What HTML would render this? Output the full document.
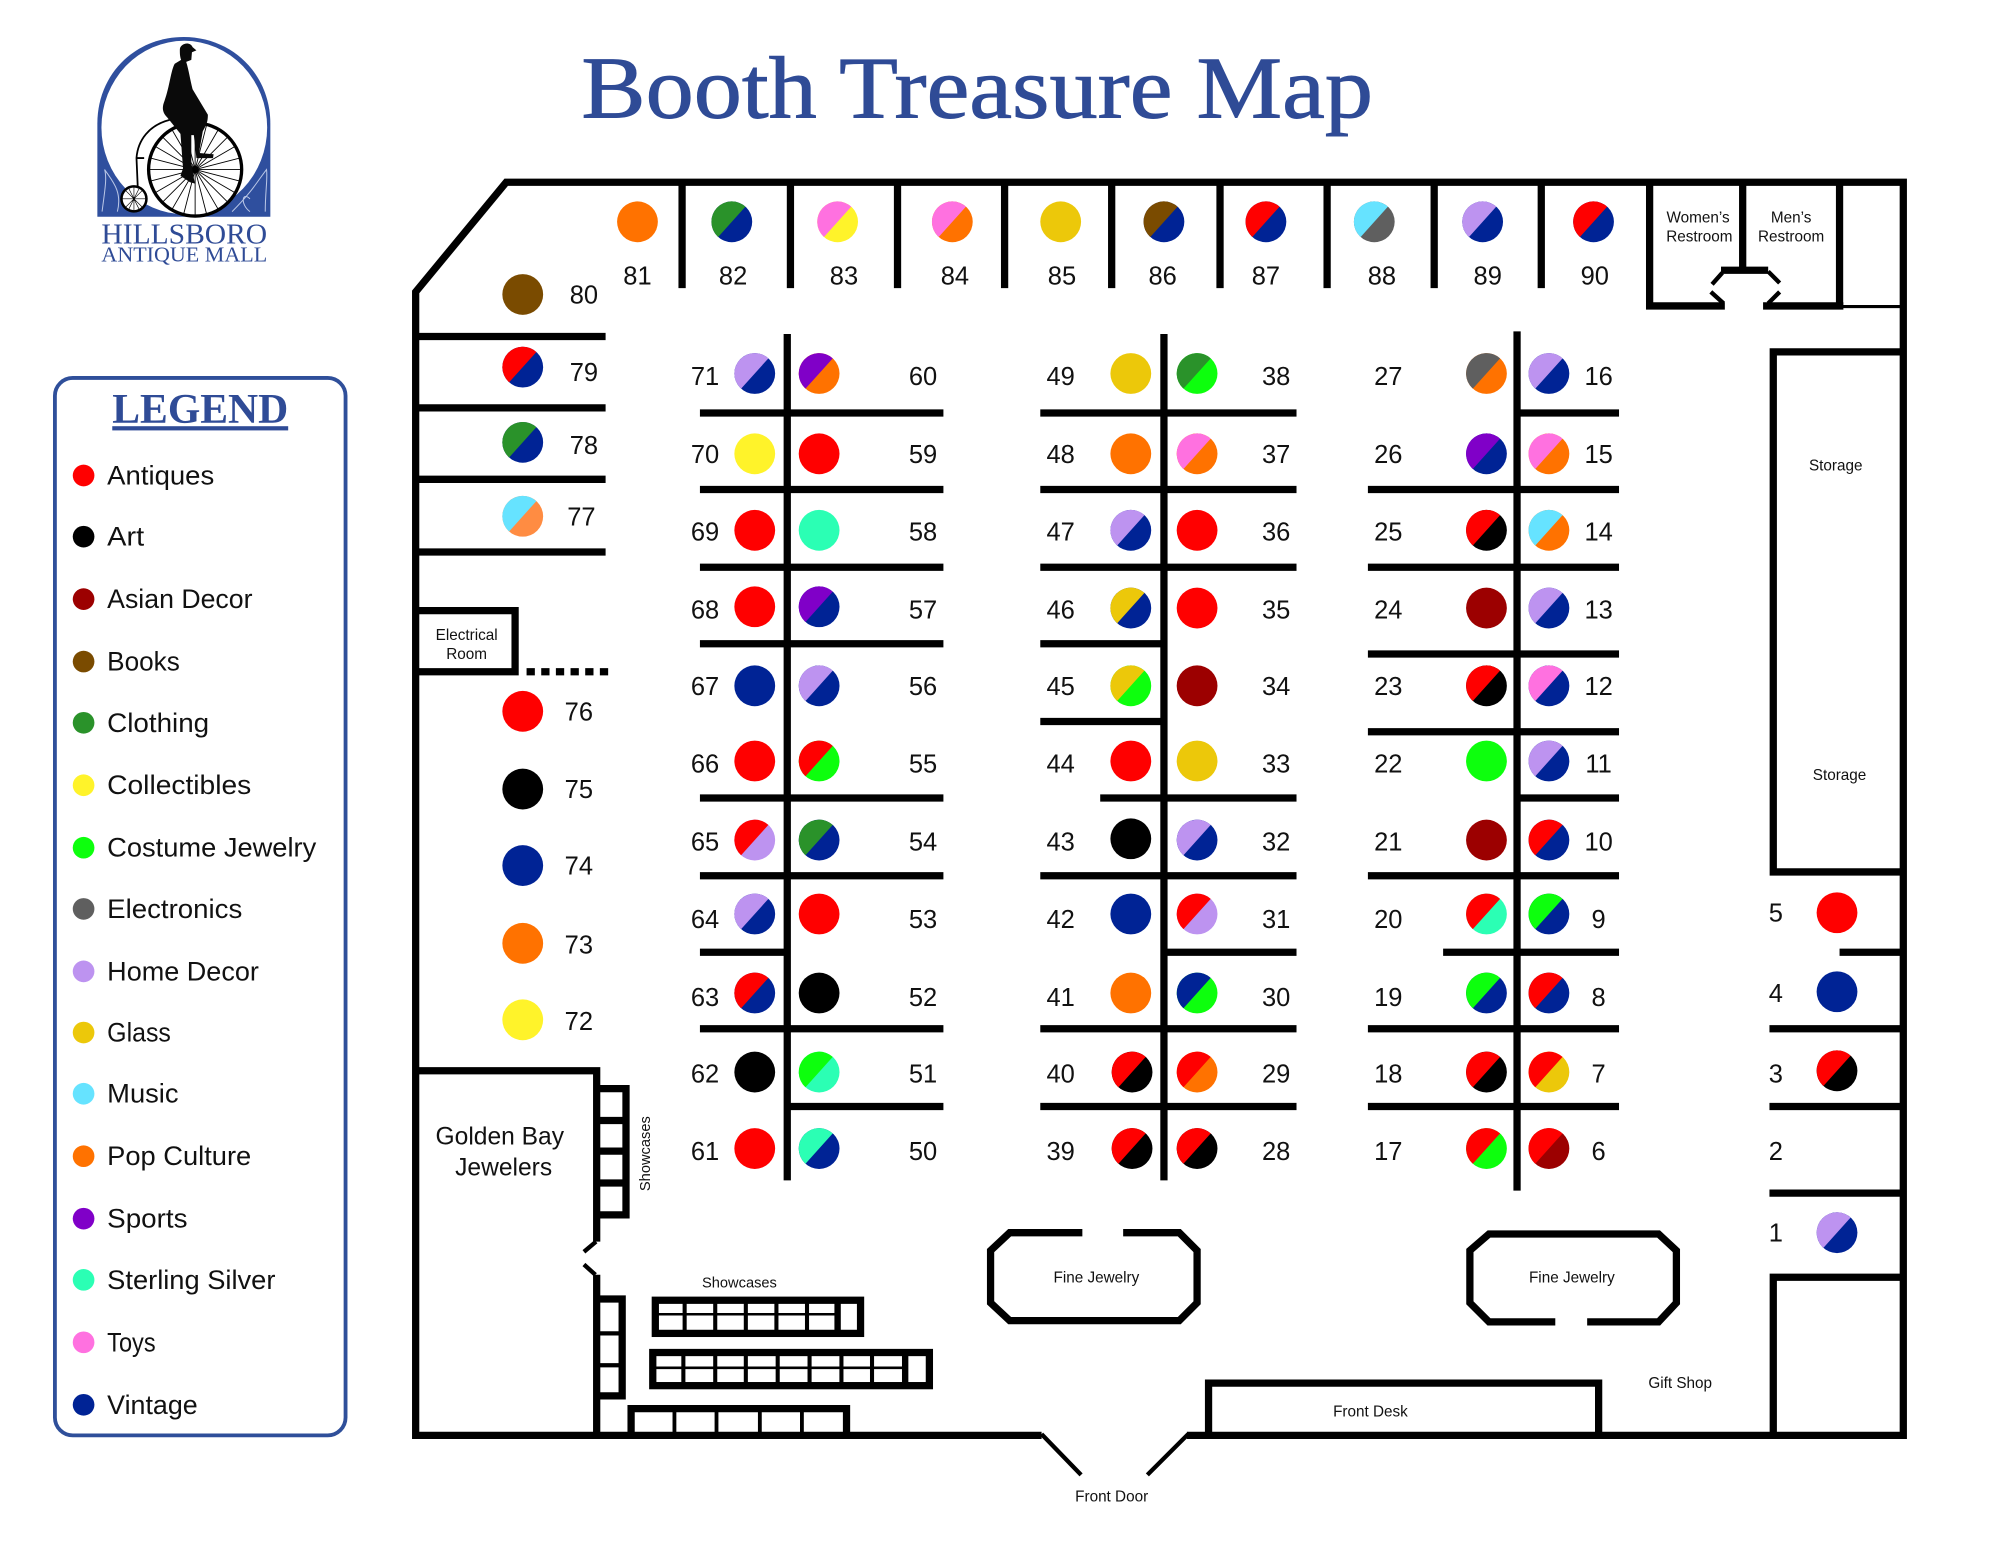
<!DOCTYPE html>
<html><head><meta charset="utf-8"><title>Booth Treasure Map</title>
<style>
html,body{margin:0;padding:0;background:#fff}
svg{display:block}
text{font-family:"Liberation Sans",sans-serif;fill:#111}
.n{font-size:20px;text-anchor:middle;dominant-baseline:central;transform:translateY(.8px)}
.l{font-size:21px;dominant-baseline:central}
.s{font-size:12px;text-anchor:middle}
.w{stroke:#000;stroke-width:5.7;fill:none;stroke-linecap:butt;stroke-linejoin:miter}
.t{stroke:#000;stroke-width:2.4;fill:none}
.d{stroke:#000;stroke-width:3.4;fill:none}
.r{fill:#ff0000}.k{fill:#000}.as{fill:#9c0000}.b{fill:#7a4b00}.c{fill:#2a922a}.y{fill:#fff32a}.j{fill:#0dff0d}.e{fill:#5f5f5f}.h{fill:#bd93f0}.g{fill:#ecc80a}.m{fill:#66e3ff}.p{fill:#ff7200}.q{fill:#ff8c42}.u{fill:#8000c8}.ss{fill:#2bffb4}.o{fill:#ff71e0}.v{fill:#002395}
</style></head><body>
<svg xmlns="http://www.w3.org/2000/svg" width="1999" height="1545" viewBox="0 0 1568 1212">
<defs><path id="H" d="M-10.7,11.9A16,16 0 0 1 10.7,-11.9Z"/></defs>
<rect width="1568" height="1212" fill="#fff"/>

<!-- Title -->
<text x="456" y="92" textLength="621" lengthAdjust="spacingAndGlyphs" stroke="#2f4b96" stroke-width=".7" style="font-family:'Liberation Serif',serif;font-size:69px;fill:#2f4b96">Booth Treasure Map</text>

<!-- Logo -->
<path d="M76.3,170V97C76.3,58 106,29 144,29C182,29 212,58 212,97V170Z" fill="#2f4f9e"/>
<ellipse cx="144.500" cy="100" rx="65" ry="68" fill="#fff"/>
<path d="M80,166C82,150 84,140 82,133C88,142 96,150 92,166M208,166C208,150 210,140 209,133C202,142 198,150 182,166M196,156C190,150 188,160 196,166" stroke="#b9c6e6" stroke-width=".8" fill="none"/>
<g transform="translate(153,133)">
<circle r="36.5" fill="#fff" stroke="#000" stroke-width="2.6"/>
<path d="M-36,0H36M-35,-9L35,9M-31,-18L31,18M-25,-25L25,25M-18,-31L18,31M-9,-35L9,35M0,-36V36M9,-35L-9,35M18,-31L-18,31M25,-25L-25,25M31,-18L-31,18M35,-9L-35,9" stroke="#000" stroke-width=".7"/>
</g>
<g transform="translate(105,156)">
<circle r="9.8" fill="#fff" stroke="#000" stroke-width="2"/>
<path d="M-9,0H9M-7,-7L7,7M0,-9V9M7,-7L-7,7M-4,-8L4,8M4,-8L-4,8" stroke="#000" stroke-width=".5"/>
</g>
<path d="M133,94C117,98 108,110 107,124L108,147M107,124H113" stroke="#000" stroke-width="1.4" fill="none"/>
<path d="M141,39C141,34 149,32 151,37L154,39.500L150.500,41L150,47L146,48.500C148,55 149,62 151,70L163,90C163,97 161,99 159,103L156,120L167.500,121L167,124L154,124L152,106L150,106L150,128L152,140L153,144L149,143L141.500,138L143.500,132L141.500,105L131,92C127,88 127,84 129,79C133,68 134,55 137,50L142,47C141,44 141,42 141,39Z" fill="#0a0a0a"/>
<text x="144.500" y="191" text-anchor="middle" textLength="130" lengthAdjust="spacingAndGlyphs" style="font-family:'Liberation Serif',serif;font-size:22px;fill:#2f4b96">HILLSBORO</text>
<text x="144.500" y="205" text-anchor="middle" textLength="130" lengthAdjust="spacingAndGlyphs" style="font-family:'Liberation Serif',serif;font-size:16.5px;fill:#2f4b96">ANTIQUE MALL</text>

<!-- Legend -->
<rect x="43" y="296.500" width="228" height="829.500" rx="14" fill="#fff" stroke="#2f4f9a" stroke-width="3"/>
<text x="157" y="332" text-anchor="middle" textLength="138" lengthAdjust="spacingAndGlyphs" text-decoration="underline" style="font-family:'Liberation Serif',serif;font-weight:bold;font-size:33px;fill:#2f4b96">LEGEND</text>
<circle class="r" cx="65.500" cy="373" r="8.500"/><text class="l" x="84" y="373" textLength="84" lengthAdjust="spacingAndGlyphs">Antiques</text>
<circle class="k" cx="65.500" cy="421" r="8.500"/><text class="l" x="84" y="421" textLength="29" lengthAdjust="spacingAndGlyphs">Art</text>
<circle class="as" cx="65.500" cy="470" r="8.500"/><text class="l" x="84" y="470" textLength="114" lengthAdjust="spacingAndGlyphs">Asian Decor</text>
<circle class="b" cx="65.500" cy="519" r="8.500"/><text class="l" x="84" y="519" textLength="57" lengthAdjust="spacingAndGlyphs">Books</text>
<circle class="c" cx="65.500" cy="567" r="8.500"/><text class="l" x="84" y="567" textLength="80" lengthAdjust="spacingAndGlyphs">Clothing</text>
<circle class="y" cx="65.500" cy="616" r="8.500"/><text class="l" x="84" y="616" textLength="113" lengthAdjust="spacingAndGlyphs">Collectibles</text>
<circle class="j" cx="65.500" cy="665" r="8.500"/><text class="l" x="84" y="665" textLength="164" lengthAdjust="spacingAndGlyphs">Costume Jewelry</text>
<circle class="e" cx="65.500" cy="713" r="8.500"/><text class="l" x="84" y="713" textLength="106" lengthAdjust="spacingAndGlyphs">Electronics</text>
<circle class="h" cx="65.500" cy="762" r="8.500"/><text class="l" x="84" y="762" textLength="119" lengthAdjust="spacingAndGlyphs">Home Decor</text>
<circle class="g" cx="65.500" cy="810" r="8.500"/><text class="l" x="84" y="810" textLength="50" lengthAdjust="spacingAndGlyphs">Glass</text>
<circle class="m" cx="65.500" cy="858" r="8.500"/><text class="l" x="84" y="858" textLength="56" lengthAdjust="spacingAndGlyphs">Music</text>
<circle class="p" cx="65.500" cy="907" r="8.500"/><text class="l" x="84" y="907" textLength="113" lengthAdjust="spacingAndGlyphs">Pop Culture</text>
<circle class="u" cx="65.500" cy="956" r="8.500"/><text class="l" x="84" y="956" textLength="63" lengthAdjust="spacingAndGlyphs">Sports</text>
<circle class="ss" cx="65.500" cy="1004" r="8.500"/><text class="l" x="84" y="1004" textLength="132" lengthAdjust="spacingAndGlyphs">Sterling Silver</text>
<circle class="o" cx="65.500" cy="1053" r="8.500"/><text class="l" x="84" y="1053" textLength="38" lengthAdjust="spacingAndGlyphs">Toys</text>
<circle class="v" cx="65.500" cy="1102" r="8.500"/><text class="l" x="84" y="1102" textLength="71" lengthAdjust="spacingAndGlyphs">Vintage</text>

<!-- Outer walls -->
<path class="w" d="M817,1126H326V229L397,143H1493V1126H931"/>
<path class="d" d="M817,1125L848,1157M932,1125L900,1157"/>

<!-- Top booth dividers -->
<path class="w" d="M535,143V226M620,143V226M704,143V226M788,143V226M872,143V226M957,143V226M1041,143V226M1125,143V226M1209,143V226"/>
<!-- Restrooms -->
<path class="w" d="M1294,143V240H1353M1383,240H1446M1443,143V240M1367,143V212M1350,212H1387"/>
<path class="d" d="M1351,214L1343,223M1342,229L1352,238M1387,213L1396,222M1396,229L1387,238"/>
<path class="t" d="M1443,240.500H1493"/>
<!-- Storage and right side -->
<path class="w" d="M1493,276H1391V684H1493M1443,747H1493M1388,807H1493M1388,868H1493M1388,936H1493M1391,1126V1002H1493"/>
<!-- Left booths -->
<path class="w" d="M326,264H475M326,320H475M326,376H475M326,433H475"/>
<path class="w" d="M326,479H404V527H326"/>
<path d="M413,527H478" stroke="#000" stroke-width="5.7" stroke-dasharray="6.500 5" fill="none"/>
<!-- Golden Bay -->
<path class="w" d="M326,840H468V974M468,1000V1126"/>
<path class="d" d="M467.500,974L458,982M458,992L467,1000"/>
<path class="w" d="M468,854H491V953H468M468,879H491M468,903H491M468,928H491"/>
<path class="w" d="M468,1019H488V1095H468"/>
<path class="d" d="M468,1046H488M468,1071H488"/>
<!-- Showcases -->
<rect class="w" x="514" y="1020" width="161" height="26"/>
<path d="M537,1020V1046M561,1020V1046M585,1020V1046M609,1020V1046M633,1020V1046" stroke="#000" stroke-width="3.200"/>
<path d="M657,1020V1046" stroke="#000" stroke-width="5"/>
<path d="M514,1031H657" stroke="#000" stroke-width="2"/>
<rect class="w" x="512" y="1061" width="217" height="26"/>
<path d="M536,1061V1087M561,1061V1087M585,1061V1087M610,1061V1087M635,1061V1087M660,1061V1087M684,1061V1087" stroke="#000" stroke-width="3.200"/>
<path d="M710,1061V1087" stroke="#000" stroke-width="5"/>
<path d="M512,1073H710" stroke="#000" stroke-width="2"/>
<path class="w" d="M495,1126V1105H664V1126"/>
<path d="M529,1105V1126M562,1105V1126M596,1105V1126M629,1105V1126" stroke="#000" stroke-width="3"/>
<!-- Fine Jewelry -->
<path class="w" d="M849,967H792L777,981V1022L792,1036H925L939,1022V981L925,967H881"/>
<path class="w" d="M1220,1037H1168L1153,1022V981L1168,968H1301L1315,981V1022L1301,1037H1245"/>
<!-- Front desk -->
<path class="w" d="M948,1126V1085H1254V1126"/>

<!-- Aisle 1 -->
<path class="w" d="M617.500,262V926M549,324H740M549,384H740M549,445H740M549,505H740M549,626H740M549,687H740M549,747H617M549,807H740M617,868H740"/>
<!-- Aisle 2 -->
<path class="w" d="M913,262V926M816,324H1017M816,384H1017M816,445H1017M816,505H913M816,566H913M863,626H1017M816,687H1017M913,747H1017M816,807H1017M816,868H1017"/>
<!-- Aisle 3 -->
<path class="w" d="M1190,260V934M1190,324H1270M1073,384H1270M1073,445H1270M1073,513H1270M1073,574H1270M1190,626H1270M1073,687H1270M1132,747H1270M1073,807H1270M1073,868H1270"/>

<!-- Top booths -->
<circle class="p" cx="500" cy="174" r="16"/>
<circle class="v" cx="574" cy="174" r="16"/><use href="#H" x="574" y="174" class="c"/>
<circle class="y" cx="657" cy="174" r="16"/><use href="#H" x="657" y="174" class="o"/>
<circle class="p" cx="747" cy="174" r="16"/><use href="#H" x="747" y="174" class="o"/>
<circle class="g" cx="832" cy="174" r="16"/>
<circle class="v" cx="913" cy="174" r="16"/><use href="#H" x="913" y="174" class="b"/>
<circle class="v" cx="993" cy="174" r="16"/><use href="#H" x="993" y="174" class="r"/>
<circle class="e" cx="1078" cy="174" r="16"/><use href="#H" x="1078" y="174" class="m"/>
<circle class="v" cx="1163" cy="174" r="16"/><use href="#H" x="1163" y="174" class="h"/>
<circle class="v" cx="1250" cy="174" r="16"/><use href="#H" x="1250" y="174" class="r"/>
<text class="n" x="500" y="216">81</text><text class="n" x="575" y="216">82</text><text class="n" x="662" y="216">83</text><text class="n" x="749" y="216">84</text><text class="n" x="833" y="216">85</text><text class="n" x="912" y="216">86</text><text class="n" x="993" y="216">87</text><text class="n" x="1084" y="216">88</text><text class="n" x="1167" y="216">89</text><text class="n" x="1251" y="216">90</text>

<!-- Left booths -->
<circle class="b" cx="410" cy="231" r="16"/><text class="n" x="458" y="231">80</text>
<circle class="v" cx="410" cy="288" r="16"/><use href="#H" x="410" y="288" class="r"/><text class="n" x="458" y="292">79</text>
<circle class="v" cx="410" cy="347" r="16"/><use href="#H" x="410" y="347" class="c"/><text class="n" x="458" y="349">78</text>
<circle class="q" cx="410" cy="405" r="16"/><use href="#H" x="410" y="405" class="m"/><text class="n" x="456" y="405">77</text>
<circle class="r" cx="410" cy="558" r="16"/><text class="n" x="454" y="558">76</text>
<circle class="k" cx="410" cy="619" r="16"/><text class="n" x="454" y="619">75</text>
<circle class="v" cx="410" cy="679" r="16"/><text class="n" x="454" y="679">74</text>
<circle class="p" cx="410" cy="740" r="16"/><text class="n" x="454" y="741">73</text>
<circle class="y" cx="410" cy="800" r="16"/><text class="n" x="454" y="801">72</text>

<!-- Aisle 1 left -->
<circle class="v" cx="592" cy="293" r="16"/><use href="#H" x="592" y="293" class="h"/><text class="n" x="553" y="295">71</text>
<circle class="y" cx="592" cy="356" r="16"/><text class="n" x="553" y="356">70</text>
<circle class="r" cx="592" cy="416" r="16"/><text class="n" x="553" y="417">69</text>
<circle class="r" cx="592" cy="476" r="16"/><text class="n" x="553" y="478">68</text>
<circle class="v" cx="592" cy="538" r="16"/><text class="n" x="553" y="538">67</text>
<circle class="r" cx="592" cy="597" r="16"/><text class="n" x="553" y="599">66</text>
<circle class="h" cx="592" cy="659" r="16"/><use href="#H" x="592" y="659" class="r"/><text class="n" x="553" y="660">65</text>
<circle class="v" cx="592" cy="717" r="16"/><use href="#H" x="592" y="717" class="h"/><text class="n" x="553" y="721">64</text>
<circle class="v" cx="592" cy="779" r="16"/><use href="#H" x="592" y="779" class="r"/><text class="n" x="553" y="782">63</text>
<circle class="k" cx="592" cy="841" r="16"/><text class="n" x="553" y="842">62</text>
<circle class="r" cx="592" cy="901" r="16"/><text class="n" x="553" y="903">61</text>
<!-- Aisle 1 right -->
<circle class="p" cx="642.500" cy="293" r="16"/><use href="#H" x="642.500" y="293" class="u"/><text class="n" x="724" y="295">60</text>
<circle class="r" cx="642.500" cy="356" r="16"/><text class="n" x="724" y="356">59</text>
<circle class="ss" cx="642.500" cy="416" r="16"/><text class="n" x="724" y="417">58</text>
<circle class="v" cx="642.500" cy="476" r="16"/><use href="#H" x="642.500" y="476" class="u"/><text class="n" x="724" y="478">57</text>
<circle class="v" cx="642.500" cy="538" r="16"/><use href="#H" x="642.500" y="538" class="h"/><text class="n" x="724" y="538">56</text>
<circle class="j" cx="642.500" cy="597" r="16"/><use href="#H" x="642.500" y="597" class="r"/><text class="n" x="724" y="599">55</text>
<circle class="v" cx="642.500" cy="659" r="16"/><use href="#H" x="642.500" y="659" class="c"/><text class="n" x="724" y="660">54</text>
<circle class="r" cx="642.500" cy="717" r="16"/><text class="n" x="724" y="721">53</text>
<circle class="k" cx="642.500" cy="779" r="16"/><text class="n" x="724" y="782">52</text>
<circle class="ss" cx="642.500" cy="841" r="16"/><use href="#H" x="642.500" y="841" class="j"/><text class="n" x="724" y="842">51</text>
<circle class="v" cx="642.500" cy="901" r="16"/><use href="#H" x="642.500" y="901" class="ss"/><text class="n" x="724" y="903">50</text>

<!-- Aisle 2 left -->
<circle class="g" cx="887" cy="293" r="16"/><text class="n" x="832" y="295">49</text>
<circle class="p" cx="887" cy="356" r="16"/><text class="n" x="832" y="356">48</text>
<circle class="v" cx="887" cy="416" r="16"/><use href="#H" x="887" y="416" class="h"/><text class="n" x="832" y="417">47</text>
<circle class="v" cx="887" cy="477" r="16"/><use href="#H" x="887" y="477" class="g"/><text class="n" x="832" y="478">46</text>
<circle class="j" cx="887" cy="538" r="16"/><use href="#H" x="887" y="538" class="g"/><text class="n" x="832" y="538">45</text>
<circle class="r" cx="887" cy="597" r="16"/><text class="n" x="832" y="599">44</text>
<circle class="k" cx="887" cy="658" r="16"/><text class="n" x="832" y="660">43</text>
<circle class="v" cx="887" cy="717" r="16"/><text class="n" x="832" y="721">42</text>
<circle class="p" cx="887" cy="779" r="16"/><text class="n" x="832" y="782">41</text>
<circle class="k" cx="888" cy="841" r="16"/><use href="#H" x="888" y="841" class="r"/><text class="n" x="832" y="842">40</text>
<circle class="k" cx="888" cy="901" r="16"/><use href="#H" x="888" y="901" class="r"/><text class="n" x="832" y="903">39</text>
<!-- Aisle 2 right -->
<circle class="j" cx="939" cy="293" r="16"/><use href="#H" x="939" y="293" class="c"/><text class="n" x="1001" y="295">38</text>
<circle class="p" cx="939" cy="356" r="16"/><use href="#H" x="939" y="356" class="o"/><text class="n" x="1001" y="356">37</text>
<circle class="r" cx="939" cy="416" r="16"/><text class="n" x="1001" y="417">36</text>
<circle class="r" cx="939" cy="477" r="16"/><text class="n" x="1001" y="478">35</text>
<circle class="as" cx="939" cy="538" r="16"/><text class="n" x="1001" y="538">34</text>
<circle class="g" cx="939" cy="597" r="16"/><text class="n" x="1001" y="599">33</text>
<circle class="v" cx="939" cy="659" r="16"/><use href="#H" x="939" y="659" class="h"/><text class="n" x="1001" y="660">32</text>
<circle class="h" cx="939" cy="717" r="16"/><use href="#H" x="939" y="717" class="r"/><text class="n" x="1001" y="721">31</text>
<circle class="j" cx="939" cy="779" r="16"/><use href="#H" x="939" y="779" class="v"/><text class="n" x="1001" y="782">30</text>
<circle class="p" cx="939" cy="841" r="16"/><use href="#H" x="939" y="841" class="r"/><text class="n" x="1001" y="842">29</text>
<circle class="k" cx="939" cy="901" r="16"/><use href="#H" x="939" y="901" class="r"/><text class="n" x="1001" y="903">28</text>

<!-- Aisle 3 left -->
<circle class="p" cx="1166" cy="293" r="16"/><use href="#H" x="1166" y="293" class="e"/><text class="n" x="1089" y="295">27</text>
<circle class="v" cx="1166" cy="356" r="16"/><use href="#H" x="1166" y="356" class="u"/><text class="n" x="1089" y="356">26</text>
<circle class="k" cx="1166" cy="416" r="16"/><use href="#H" x="1166" y="416" class="r"/><text class="n" x="1089" y="417">25</text>
<circle class="as" cx="1166" cy="477" r="16"/><text class="n" x="1089" y="478">24</text>
<circle class="k" cx="1166" cy="538" r="16"/><use href="#H" x="1166" y="538" class="r"/><text class="n" x="1089" y="538">23</text>
<circle class="j" cx="1166" cy="597" r="16"/><text class="n" x="1089" y="599">22</text>
<circle class="as" cx="1166" cy="659" r="16"/><text class="n" x="1089" y="660">21</text>
<circle class="ss" cx="1166" cy="717" r="16"/><use href="#H" x="1166" y="717" class="r"/><text class="n" x="1089" y="721">20</text>
<circle class="v" cx="1166" cy="779" r="16"/><use href="#H" x="1166" y="779" class="j"/><text class="n" x="1089" y="782">19</text>
<circle class="k" cx="1166" cy="841" r="16"/><use href="#H" x="1166" y="841" class="r"/><text class="n" x="1089" y="842">18</text>
<circle class="j" cx="1166" cy="901" r="16"/><use href="#H" x="1166" y="901" class="r"/><text class="n" x="1089" y="903">17</text>
<!-- Aisle 3 right -->
<circle class="v" cx="1215" cy="293" r="16"/><use href="#H" x="1215" y="293" class="h"/><text class="n" x="1254" y="295">16</text>
<circle class="p" cx="1215" cy="356" r="16"/><use href="#H" x="1215" y="356" class="o"/><text class="n" x="1254" y="356">15</text>
<circle class="p" cx="1215" cy="416" r="16"/><use href="#H" x="1215" y="416" class="m"/><text class="n" x="1254" y="417">14</text>
<circle class="v" cx="1215" cy="477" r="16"/><use href="#H" x="1215" y="477" class="h"/><text class="n" x="1254" y="478">13</text>
<circle class="v" cx="1215" cy="538" r="16"/><use href="#H" x="1215" y="538" class="o"/><text class="n" x="1254" y="538">12</text>
<circle class="v" cx="1215" cy="597" r="16"/><use href="#H" x="1215" y="597" class="h"/><text class="n" x="1254" y="599">11</text>
<circle class="v" cx="1215" cy="659" r="16"/><use href="#H" x="1215" y="659" class="r"/><text class="n" x="1254" y="660">10</text>
<circle class="v" cx="1215" cy="717" r="16"/><use href="#H" x="1215" y="717" class="j"/><text class="n" x="1254" y="721">9</text>
<circle class="v" cx="1215" cy="779" r="16"/><use href="#H" x="1215" y="779" class="r"/><text class="n" x="1254" y="782">8</text>
<circle class="g" cx="1215" cy="841" r="16"/><use href="#H" x="1215" y="841" class="r"/><text class="n" x="1254" y="842">7</text>
<circle class="as" cx="1215" cy="901" r="16"/><use href="#H" x="1215" y="901" class="r"/><text class="n" x="1254" y="903">6</text>

<!-- Right booths -->
<circle class="r" cx="1441" cy="716" r="16"/><text class="n" x="1393" y="716">5</text>
<circle class="v" cx="1441" cy="778" r="16"/><text class="n" x="1393" y="779">4</text>
<circle class="k" cx="1441" cy="840" r="16"/><use href="#H" x="1441" y="840" class="r"/><text class="n" x="1393" y="842">3</text>
<text class="n" x="1393" y="903">2</text>
<circle class="v" cx="1441" cy="967" r="16"/><use href="#H" x="1441" y="967" class="h"/><text class="n" x="1393" y="967">1</text>

<!-- Room labels -->
<text class="s" x="1332" y="174.500">Women’s</text><text class="s" x="1333" y="189.500">Restroom</text>
<text class="s" x="1405" y="174.500">Men’s</text><text class="s" x="1405" y="189.500">Restroom</text>
<text class="s" x="1440" y="369">Storage</text><text class="s" x="1443" y="612">Storage</text>
<text class="s" x="366" y="502">Electrical</text><text class="s" x="366" y="517">Room</text>
<text x="392" y="898" text-anchor="middle" style="font-size:19.300px">Golden Bay</text>
<text x="395" y="922" text-anchor="middle" style="font-size:19.300px">Jewelers</text>
<text class="s" transform="translate(510,905) rotate(-90)" style="font-size:11.500px">Showcases</text>
<text class="s" x="580" y="1010" style="font-size:11.500px">Showcases</text>
<text class="s" x="860" y="1006">Fine Jewelry</text>
<text class="s" x="1233" y="1006">Fine Jewelry</text>
<text class="s" x="1075" y="1111">Front Desk</text>
<text class="s" x="1318" y="1089">Gift Shop</text>
<text class="s" x="872" y="1178">Front Door</text>
</svg>
</body></html>
